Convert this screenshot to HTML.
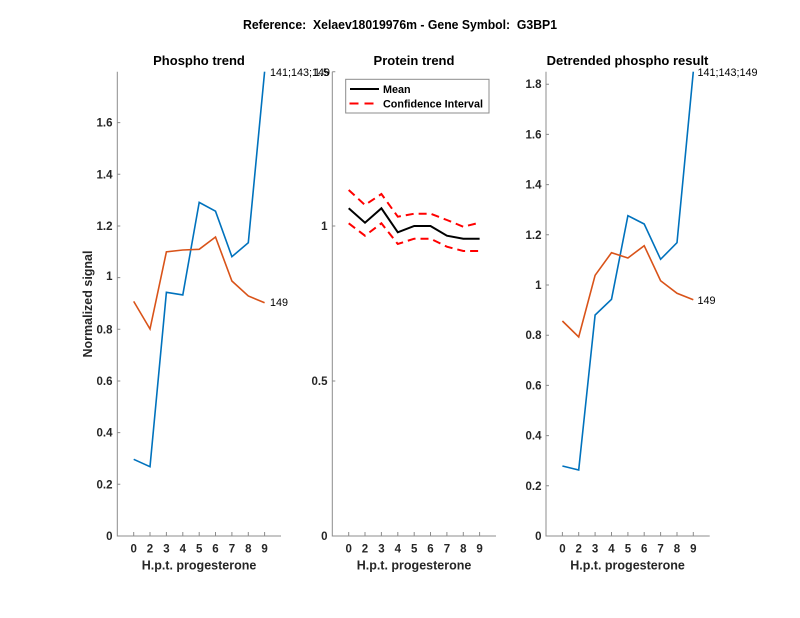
<!DOCTYPE html>
<html><head><meta charset="utf-8"><style>
html,body{margin:0;padding:0;background:#fff;}
svg{display:block;}
text{font-family:"Liberation Sans",Arial,sans-serif;}
.t{font-size:11.5px;font-weight:bold;fill:#262626;}
.h{font-size:13px;font-weight:bold;fill:#000;}
.xl{font-size:12.5px;font-weight:bold;fill:#262626;}
.lb{font-size:10.8px;fill:#000;}
.ax{stroke:#8c8c8c;stroke-width:1;fill:none;}
</style></head><body>
<svg width="800" height="618" viewBox="0 0 800 618" xmlns="http://www.w3.org/2000/svg">
<rect width="800" height="618" fill="#fff"/>
<text x="400" y="29" class="h" text-anchor="middle" textLength="314" lengthAdjust="spacingAndGlyphs">Reference:&#160; Xelaev18019976m - Gene Symbol:&#160; G3BP1</text>

<!-- Panel 1 -->
<text x="199" y="65" class="h" text-anchor="middle">Phospho trend</text>
<g class="ax">
<path d="M117.3,71.7 V536 H281"/>
<path d="M117.3,484.3h3 M117.3,432.6h3 M117.3,381h3 M117.3,329.3h3 M117.3,277.6h3 M117.3,226h3 M117.3,174.3h3 M117.3,122.6h3"/>
<path d="M133.7,536v-4 M150,536v-4 M166.4,536v-4 M182.8,536v-4 M199.2,536v-4 M215.5,536v-4 M231.9,536v-4 M248.3,536v-4 M264.6,536v-4"/>
</g>
<g class="t" text-anchor="end">
<text x="112.5" y="540">0</text><text x="112.5" y="488.3">0.2</text><text x="112.5" y="436.6">0.4</text><text x="112.5" y="385">0.6</text><text x="112.5" y="333.3">0.8</text><text x="112.5" y="280">1</text><text x="112.5" y="230">1.2</text><text x="112.5" y="178.3">1.4</text><text x="112.5" y="126.6">1.6</text>
</g>
<g class="t" text-anchor="middle">
<text x="133.7" y="552.5">0</text><text x="150" y="552.5">2</text><text x="166.4" y="552.5">3</text><text x="182.8" y="552.5">4</text><text x="199.2" y="552.5">5</text><text x="215.5" y="552.5">6</text><text x="231.9" y="552.5">7</text><text x="248.3" y="552.5">8</text><text x="264.6" y="552.5">9</text>
</g>
<text x="199" y="569.5" class="xl" text-anchor="middle">H.p.t. progesterone</text>
<text transform="translate(92,304) rotate(-90)" class="xl" text-anchor="middle">Normalized signal</text>
<polyline fill="none" stroke="#0072BD" stroke-width="1.6" points="133.7,459.3 150,466.7 166.4,292.3 182.8,294.9 199.2,202.4 215.5,211.2 231.9,256.7 248.3,242.7 264.6,71.7"/>
<polyline fill="none" stroke="#D95319" stroke-width="1.6" points="133.7,301.4 150,329 166.4,251.8 182.8,250 199.2,249.3 215.5,237 231.9,281 248.3,296 264.6,302.7"/>
<text x="270" y="306" class="lb">149</text>
<text x="270" y="76" class="lb">141;143;149</text>

<!-- Panel 2 -->
<rect x="332.8" y="60" width="170" height="476" fill="#fff"/>
<text x="329" y="76" class="lb" text-anchor="end">1.5</text>
<text x="414" y="65" class="h" text-anchor="middle">Protein trend</text>
<g class="ax">
<path d="M332.3,71.7 V536 H496"/>
<path d="M332.3,381h3 M332.3,226h3 M332.3,71.7h3"/>
<path d="M348.7,536v-4 M365,536v-4 M381.4,536v-4 M397.8,536v-4 M414.2,536v-4 M430.5,536v-4 M446.9,536v-4 M463.3,536v-4 M479.6,536v-4"/>
</g>
<g class="t" text-anchor="end">
<text x="327.5" y="540">0</text><text x="327.5" y="385">0.5</text><text x="327.5" y="230">1</text>
</g>
<g class="t" text-anchor="middle">
<text x="348.7" y="552.5">0</text><text x="365" y="552.5">2</text><text x="381.4" y="552.5">3</text><text x="397.8" y="552.5">4</text><text x="414.2" y="552.5">5</text><text x="430.5" y="552.5">6</text><text x="446.9" y="552.5">7</text><text x="463.3" y="552.5">8</text><text x="479.6" y="552.5">9</text>
</g>
<text x="414" y="569.5" class="xl" text-anchor="middle">H.p.t. progesterone</text>
<polyline fill="none" stroke="#ff0000" stroke-width="2" stroke-dasharray="8,5" points="348.7,190 365,205 381.4,194 397.8,216.7 414.2,213.7 430.5,213.7 446.9,220 463.3,226.7 479.6,222.7"/>
<polyline fill="none" stroke="#ff0000" stroke-width="2" stroke-dasharray="8,5" points="348.7,223.3 365,235.7 381.4,223.3 397.8,244 414.2,238.7 430.5,238.7 446.9,246.7 463.3,251 479.6,251"/>
<polyline fill="none" stroke="#000" stroke-width="2" points="348.7,208.3 365,222.7 381.4,208.3 397.8,232.3 414.2,226 430.5,226 446.9,235.7 463.3,238.7 479.6,238.7"/>
<rect x="345.7" y="79.3" width="143.3" height="33.7" fill="#fff" stroke="#8c8c8c" stroke-width="1"/>
<line x1="350" y1="89" x2="379" y2="89" stroke="#000" stroke-width="2"/>
<line x1="349.5" y1="103.5" x2="379" y2="103.5" stroke="#ff0000" stroke-width="2" stroke-dasharray="9,6"/>
<text x="383" y="93" class="t" style="font-size:10.8px;fill:#000">Mean</text>
<text x="383" y="107.5" class="t" style="font-size:10.8px;fill:#000" textLength="100" lengthAdjust="spacingAndGlyphs">Confidence Interval</text>

<!-- Panel 3 -->
<text x="627.5" y="65" class="h" text-anchor="middle">Detrended phospho result</text>
<g class="ax">
<path d="M546,71.7 V536 H709.7"/>
<path d="M546,485.8h3 M546,435.6h3 M546,385.4h3 M546,335.2h3 M546,285h3 M546,234.8h3 M546,184.6h3 M546,134.4h3 M546,84.2h3"/>
<path d="M562.4,536v-4 M578.7,536v-4 M595.1,536v-4 M611.5,536v-4 M627.9,536v-4 M644.2,536v-4 M660.6,536v-4 M677,536v-4 M693.3,536v-4"/>
</g>
<g class="t" text-anchor="end">
<text x="541.5" y="540">0</text><text x="541.5" y="489.8">0.2</text><text x="541.5" y="439.6">0.4</text><text x="541.5" y="389.4">0.6</text><text x="541.5" y="339.2">0.8</text><text x="541.5" y="289">1</text><text x="541.5" y="238.8">1.2</text><text x="541.5" y="188.6">1.4</text><text x="541.5" y="138.4">1.6</text><text x="541.5" y="88.2">1.8</text>
</g>
<g class="t" text-anchor="middle">
<text x="562.4" y="552.5">0</text><text x="578.7" y="552.5">2</text><text x="595.1" y="552.5">3</text><text x="611.5" y="552.5">4</text><text x="627.9" y="552.5">5</text><text x="644.2" y="552.5">6</text><text x="660.6" y="552.5">7</text><text x="677" y="552.5">8</text><text x="693.3" y="552.5">9</text>
</g>
<text x="627.5" y="569.5" class="xl" text-anchor="middle">H.p.t. progesterone</text>
<polyline fill="none" stroke="#0072BD" stroke-width="1.6" points="562.4,466 578.7,470 595.1,315 611.5,299.3 627.9,215.7 644.2,224 660.6,259.3 677,242.7 693.3,71.7"/>
<polyline fill="none" stroke="#D95319" stroke-width="1.6" points="562.4,321 578.7,337 595.1,275.3 611.5,252.7 627.9,258 644.2,245.7 660.6,280.7 677,293.3 693.3,299.7"/>
<text x="697.5" y="304" class="lb">149</text>
<text x="697.5" y="76" class="lb">141;143;149</text>
</svg>
</body></html>
